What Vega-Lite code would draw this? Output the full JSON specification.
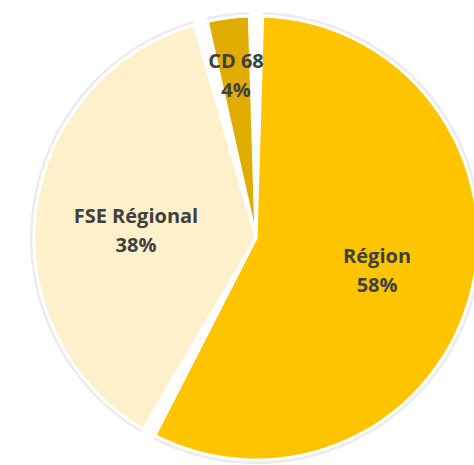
{
  "$schema": "https://vega.github.io/schema/vega-lite/v6.json",
  "width": 512,
  "height": 476,
  "padding": 0,
  "autosize": {"type": "none"},
  "background": "white",
  "view": {"stroke": null},
  "data": {
    "values": [
      {"category": "Région", "value": 58, "pct": "58%", "order": 1},
      {"category": "FSE Régional", "value": 38, "pct": "38%", "order": 2},
      {"category": "CD 68", "value": 4, "pct": "4%", "order": 3}
    ]
  },
  "transform": [{"calculate": "datum.category + '\\n' + datum.pct", "as": "label"}],
  "encoding": {
    "theta": {"field": "value", "type": "quantitative", "stack": true},
    "order": {"field": "order", "type": "quantitative"}
  },
  "layer": [
    {
      "mark": {"type": "arc", "outerRadius": 226, "stroke": null, "padAngle": 0.06, "opacity": 0.15, "fill": "#777777"},
      "encoding": {}
    },
    {
      "mark": {"type": "arc", "outerRadius": 222, "padAngle": 0.06, "stroke": "white", "strokeWidth": 3},
      "encoding": {
        "color": {
          "field": "category",
          "type": "nominal",
          "scale": {"domain": ["Région", "FSE Régional", "CD 68"], "range": ["#FFC400", "#FFF0CC", "#E0AC00"]},
          "legend": null
        }
      }
    },
    {
      "mark": {"type": "text", "radius": 125, "dy": -12, "font": "Open Sans", "fontWeight": "bold", "fontSize": 20, "lineBreak": "\n", "lineHeight": 29, "align": "center", "baseline": "middle", "fill": "#404040"},
      "encoding": {
        "text": {"field": "label", "type": "nominal"},
        "opacity": {"condition": {"test": "datum.category === 'Région'", "value": 1}, "value": 0}
      }
    },
    {
      "mark": {"type": "text", "radius": 121, "dy": -6, "font": "Open Sans", "fontWeight": "bold", "fontSize": 20, "lineBreak": "\n", "lineHeight": 29, "align": "center", "baseline": "middle", "fill": "#404040"},
      "encoding": {
        "text": {"field": "label", "type": "nominal"},
        "opacity": {"condition": {"test": "datum.category === 'FSE Régional'", "value": 1}, "value": 0}
      }
    },
    {
      "mark": {"type": "text", "radius": 160, "dy": -17, "font": "Open Sans", "fontWeight": "bold", "fontSize": 20, "lineBreak": "\n", "lineHeight": 29, "align": "center", "baseline": "middle", "fill": "#404040"},
      "encoding": {
        "text": {"field": "label", "type": "nominal"},
        "opacity": {"condition": {"test": "datum.category === 'CD 68'", "value": 1}, "value": 0}
      }
    }
  ]
}
